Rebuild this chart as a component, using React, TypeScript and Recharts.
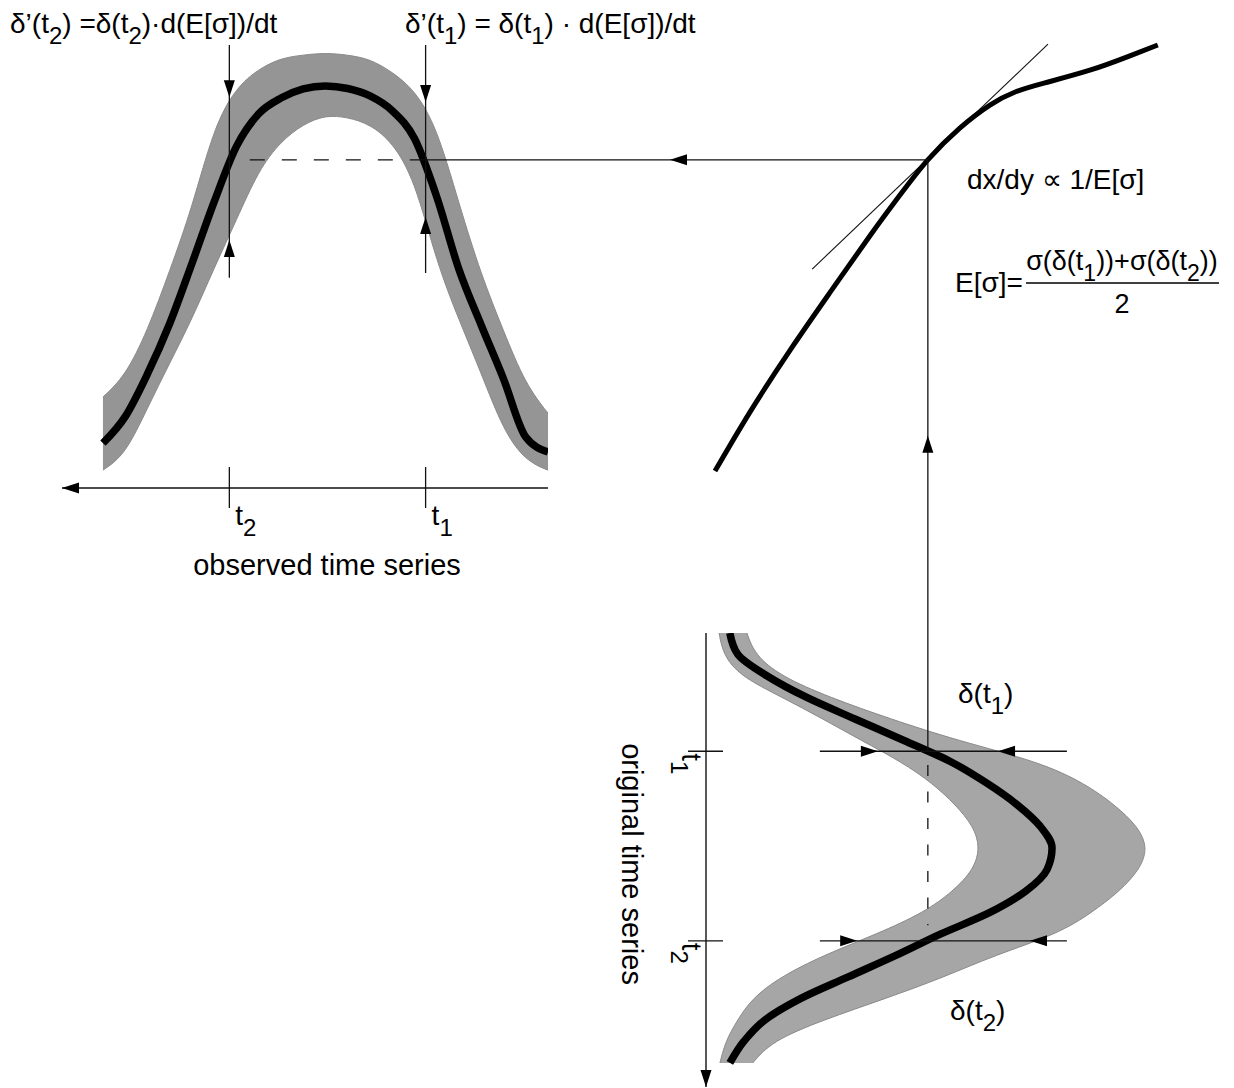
import React from 'react';
import { ComposedChart, Line, Area, XAxis, YAxis, ReferenceLine, ReferenceDot } from 'recharts';

// ---------------- data ----------------
const timeSteps = [0, 5, 10, 15, 20, 25, 30, 35, 40, 45, 50, 55, 60, 65, 70, 75, 80, 85, 90, 95, 100];

// observed (transformed) ensemble: mean and envelope
const observedMean = [8.3, 11.7, 25.1, 37.4, 50.2, 66.9, 80.3, 86.7, 90.1, 91.8, 92.4, 91.7, 89.6, 86.0, 78.5, 65.8, 51.6, 37.8, 26.2, 16.4, 10.3];
const observedUpper = [17.2, 23.7, 36.1, 48.9, 65.3, 83.0, 91.5, 95.6, 98.6, 99.5, 100, 99.5, 98.8, 96.3, 92.1, 83.2, 64.3, 49.9, 36.1, 25.7, 20.9];
const observedLower = [4.1, 6.2, 13.1, 26.4, 38.6, 51.7, 71.0, 79.5, 83.6, 85.2, 85.7, 83.6, 79.7, 73.1, 61.6, 50.6, 38.8, 28.7, 18.4, 7.6, 4.1];

// original ensemble: mean and envelope
const originalMean = [5.3, 7.1, 13.6, 22.4, 33.1, 44.0, 54.5, 62.5, 69.2, 74.3, 76.9, 75.8, 71.1, 63.1, 52.2, 42.2, 31.6, 21.1, 13.1, 8.4, 5.3];
const originalInner = [2.9, 3.8, 7.5, 17.0, 26.0, 34.5, 43.5, 50.4, 55.5, 59.5, 60.9, 59.5, 55.0, 48.5, 38.0, 26.0, 16.5, 10.2, 7.0, 4.3, 3.1];
const originalOuter = [9.1, 10.8, 16.5, 27.5, 41.0, 55.8, 74.2, 84.2, 90.9, 96.0, 98.2, 96.4, 92.0, 85.8, 78.2, 64.0, 53.0, 40.0, 26.0, 14.5, 10.4];

// transfer function (original value -> observed value)
const transferInput = [2.0, 9.8, 18.7, 27.6, 36.4, 43.1, 49.3, 56.4, 63.1, 68.7, 75.3, 85.3, 94.2, 100.4];
const transferOutput = [3.9, 17.5, 31.7, 45.0, 57.9, 67.3, 75.4, 82.7, 88.0, 91.0, 93.1, 96.0, 99.3, 101.8];
const tangentInput = [23.6, 76.0];
const tangentOutput = [50.3, 102.0];

// marked times and spreads
const tickTimes = [27.5, 71.6];
const tickSubscripts = ['1', '2'];
const observedSpreadLow = [62.3, 57.0];
const observedSpreadHigh = [88.7, 89.8];
const observedMarkerTop = 101.8;
const observedMarkerBottom = [49.4, 48.3];
const originalSpreadLow = [38.2, 33.6];
const originalSpreadHigh = [64.9, 72.0];
const originalMarkerFrom = 25.3;
const originalMarkerTo = 80.2;
const crossingInput = 49.3;
const crossingOutput = 75.4;
const dashStartTime = 67;
const dropDashFrom = 30.7;
const dropDashTo = 68;
const feedArrowInput = -8;
const riseArrowOutput = 12;

// ---------------- layout ----------------
const WIDTH = 1234;
const HEIGHT = 1088;
const FONT = '"Liberation Sans", Arial, Helvetica, sans-serif';
const INK = '#111';
const PA = { left: 62, right: 548, top: 18, bottom: 488 };
const PB = { left: 706, right: 1183, top: 18, bottom: 488 };
const PC = { left: 706, right: 1183, top: 633, bottom: 1087 };
const T_MAX_A = 109.2;
const V_MAX = 106;
const W_MAX = 108;
const T_MAX_C = 105.6;
const AXIS_A_H = 40;
const AXIS_C_W = 60;
const SUB_DY = 11;

const xOfTimeA = (t: number) => PA.right - (t / T_MAX_A) * (PA.right - PA.left);
const vOfX = (x: number) => ((x - PB.left) / (PB.right - PB.left)) * V_MAX;
const yOfTimeC = (t: number) => PC.top + (t / T_MAX_C) * (PC.bottom - PC.top);
const wOfY = (y: number) => ((PB.bottom - y) / (PB.bottom - PB.top)) * W_MAX;

const observedRows = timeSteps.map((t, i) => ({ t, mean: observedMean[i], band: [observedLower[i], observedUpper[i]] }));
const originalRows = timeSteps.map((t, i) => ({ t, mean: originalMean[i], band: [originalInner[i], originalOuter[i]] }));
const transferRows = transferInput.map((v, i) => ({ v, w: transferOutput[i] }));

const arrow = (dir: 'up' | 'down' | 'left' | 'right') => (p: any) => {
  const { cx, cy } = p;
  const L = 17;
  const h = 5.5;
  let pts: number[][];
  if (dir === 'down') pts = [[cx, cy], [cx - h, cy - L], [cx + h, cy - L]];
  else if (dir === 'up') pts = [[cx, cy], [cx - h, cy + L], [cx + h, cy + L]];
  else if (dir === 'left') pts = [[cx, cy], [cx + L, cy - h], [cx + L, cy + h]];
  else pts = [[cx, cy], [cx - L, cy - h], [cx - L, cy + h]];
  return <polygon points={pts.map((q) => q.join(',')).join(' ')} fill="#000" />;
};

// text with subscripts: parts alternate normal / subscript
const richText = (parts: string[], subSize: number) => {
  const out: React.ReactNode[] = [];
  parts.forEach((p, i) => {
    const isSub = i % 2 === 1;
    const dy = i === 0 ? 0 : isSub ? SUB_DY : -SUB_DY;
    out.push(
      <tspan key={i} dy={dy} fontSize={isSub ? subSize : undefined}>
        {p}
      </tspan>
    );
  });
  return out;
};

const ObservedTick = (props: any) => {
  const { x, payload } = props;
  const i = tickTimes.indexOf(payload.value);
  const y0 = PA.bottom;
  return (
    <g>
      <line x1={x} x2={x} y1={y0 - 21} y2={y0 + 20} stroke={INK} strokeWidth={1.3} />
      <text x={x + 6} y={y0 + 37} fontSize={28} fontFamily={FONT} fill="#000">
        {richText(['t', tickSubscripts[i]], 24)}
      </text>
    </g>
  );
};

const OriginalTick = (props: any) => {
  const { y, payload } = props;
  const i = tickTimes.indexOf(payload.value);
  const x0 = PC.left;
  return (
    <g>
      <line x1={x0 - 18} x2={x0 + 17} y1={y} y2={y} stroke={INK} strokeWidth={1.3} />
      <text transform={`translate(${x0 - 24}, ${y + 2}) rotate(90)`} fontSize={28} fontFamily={FONT} fill="#000">
        {richText(['t', tickSubscripts[i]], 24)}
      </text>
    </g>
  );
};

const layer: React.CSSProperties = { position: 'absolute', left: 0, top: 0 };

export default function App() {
  return (
    <div style={{ position: 'absolute', left: 0, top: 0, width: WIDTH, height: HEIGHT, background: '#fff' }}>
      {/* observed time series */}
      <div style={layer}>
        <ComposedChart
          width={WIDTH}
          height={HEIGHT}
          data={observedRows}
          margin={{ top: PA.top, left: PA.left, right: WIDTH - PA.right, bottom: HEIGHT - PA.bottom - AXIS_A_H }}
        >
          <XAxis
            type="number"
            dataKey="t"
            domain={[0, T_MAX_A]}
            reversed
            ticks={tickTimes}
            interval={0}
            height={AXIS_A_H}
            axisLine={{ stroke: INK, strokeWidth: 1.4 }}
            tickLine={false}
            tick={ObservedTick}
            allowDataOverflow
          />
          <YAxis type="number" domain={[0, W_MAX]} hide allowDataOverflow />
          <Area type="basis" dataKey="band" fill="#959595" fillOpacity={1} stroke="#8a8a8a" strokeWidth={1} isAnimationActive={false} />
          <Line type="monotone" dataKey="mean" stroke="#000" strokeWidth={7.5} dot={false} isAnimationActive={false} />
          {tickTimes.map((t, i) => (
            <ReferenceLine
              key={'m' + i}
              segment={[{ x: t, y: observedMarkerTop }, { x: t, y: observedMarkerBottom[i] }]}
              stroke={INK}
              strokeWidth={1.3}
              ifOverflow="visible"
            />
          ))}
          {tickTimes.map((t, i) => (
            <ReferenceDot key={'hd' + i} x={t} y={observedSpreadHigh[i]} r={3} ifOverflow="visible" shape={arrow('down')} />
          ))}
          {tickTimes.map((t, i) => (
            <ReferenceDot key={'lu' + i} x={t} y={observedSpreadLow[i]} r={3} ifOverflow="visible" shape={arrow('up')} />
          ))}
          <ReferenceLine
            segment={[{ x: dashStartTime, y: crossingOutput }, { x: tickTimes[0], y: crossingOutput }]}
            stroke={INK}
            strokeWidth={1.3}
            strokeDasharray="15 17"
            ifOverflow="visible"
          />
          <ReferenceDot x={T_MAX_A} y={0} r={3} ifOverflow="visible" shape={arrow('left')} />
        </ComposedChart>
      </div>

      {/* original time series (rotated) */}
      <div style={layer}>
        <ComposedChart
          layout="vertical"
          width={WIDTH}
          height={HEIGHT}
          data={originalRows}
          margin={{ top: PC.top, left: PC.left - AXIS_C_W, right: WIDTH - PC.right, bottom: HEIGHT - PC.bottom }}
        >
          <XAxis type="number" domain={[0, V_MAX]} hide allowDataOverflow />
          <YAxis
            type="number"
            dataKey="t"
            domain={[0, T_MAX_C]}
            ticks={tickTimes}
            interval={0}
            width={AXIS_C_W}
            axisLine={{ stroke: INK, strokeWidth: 1.4 }}
            tickLine={false}
            tick={OriginalTick}
            allowDataOverflow
          />
          <Area type="basis" dataKey="band" fill="#a6a6a6" fillOpacity={1} stroke="#8a8a8a" strokeWidth={1} isAnimationActive={false} />
          <Line type="monotone" dataKey="mean" stroke="#000" strokeWidth={7.5} dot={false} isAnimationActive={false} />
          {tickTimes.map((t, i) => (
            <ReferenceLine
              key={'h' + i}
              segment={[{ x: originalMarkerFrom, y: t }, { x: originalMarkerTo, y: t }]}
              stroke={INK}
              strokeWidth={1.3}
              ifOverflow="visible"
            />
          ))}
          {tickTimes.map((t, i) => (
            <ReferenceDot key={'r' + i} x={originalSpreadLow[i]} y={t} r={3} ifOverflow="visible" shape={arrow('right')} />
          ))}
          {tickTimes.map((t, i) => (
            <ReferenceDot key={'l' + i} x={originalSpreadHigh[i]} y={t} r={3} ifOverflow="visible" shape={arrow('left')} />
          ))}
          <ReferenceLine
            segment={[{ x: crossingInput, y: dropDashFrom }, { x: crossingInput, y: dropDashTo }]}
            stroke={INK}
            strokeWidth={1.3}
            strokeDasharray="11 15.5"
            ifOverflow="visible"
          />
          <ReferenceDot x={0} y={T_MAX_C} r={3} ifOverflow="visible" shape={arrow('down')} />
        </ComposedChart>
      </div>

      {/* transfer function */}
      <div style={layer}>
        <ComposedChart
          width={WIDTH}
          height={HEIGHT}
          data={transferRows}
          margin={{ top: PB.top, left: PB.left, right: WIDTH - PB.right, bottom: HEIGHT - PB.bottom }}
        >
          <XAxis type="number" dataKey="v" domain={[0, V_MAX]} hide allowDataOverflow />
          <YAxis type="number" domain={[0, W_MAX]} hide allowDataOverflow />
          <ReferenceLine
            segment={[{ x: tangentInput[0], y: tangentOutput[0] }, { x: tangentInput[1], y: tangentOutput[1] }]}
            stroke={INK}
            strokeWidth={1.1}
            ifOverflow="visible"
          />
          <Line type="natural" dataKey="w" stroke="#000" strokeWidth={5} dot={false} isAnimationActive={false} />
          <ReferenceLine
            segment={[{ x: crossingInput, y: crossingOutput }, { x: vOfX(xOfTimeA(tickTimes[0])), y: crossingOutput }]}
            stroke={INK}
            strokeWidth={1.3}
            ifOverflow="visible"
          />
          <ReferenceLine
            segment={[{ x: crossingInput, y: crossingOutput }, { x: crossingInput, y: wOfY(yOfTimeC(tickTimes[0])) }]}
            stroke={INK}
            strokeWidth={1.3}
            ifOverflow="visible"
          />
          <ReferenceDot x={feedArrowInput} y={crossingOutput} r={3} ifOverflow="visible" shape={arrow('left')} />
          <ReferenceDot x={crossingInput} y={riseArrowOutput} r={3} ifOverflow="visible" shape={arrow('up')} />
        </ComposedChart>
      </div>

      {/* text */}
      <svg width={WIDTH} height={HEIGHT} style={{ ...layer, pointerEvents: 'none' }} fontFamily={FONT} fill="#000">
        <text x={10} y={33} fontSize={28}>
          {richText(['δ’(t', '2', ') =δ(t', '2', ')·d(E[σ])/dt'], 24)}
        </text>
        <text x={405} y={33} fontSize={28}>
          {richText(['δ’(t', '1', ') = δ(t', '1', ') · d(E[σ])/dt'], 24)}
        </text>
        <text x={967} y={189} fontSize={28}>dx/dy ∝ 1/E[σ]</text>
        <text x={955} y={292} fontSize={28}>E[σ]=</text>
        <text x={1122} y={270} fontSize={27} textAnchor="middle">
          {richText(['σ(δ(t', '1', '))+σ(δ(t', '2', '))'], 23)}
        </text>
        <line x1={1026} x2={1219} y1={283} y2={283} stroke="#000" strokeWidth={1.5} />
        <text x={1122} y={313} fontSize={27} textAnchor="middle">2</text>
        <text x={958} y={703} fontSize={28}>
          {richText(['δ(t', '1', ')'], 24)}
        </text>
        <text x={950} y={1020} fontSize={28}>
          {richText(['δ(t', '2', ')'], 24)}
        </text>
        <text x={327} y={575} fontSize={29} textAnchor="middle">observed time series</text>
        <text transform="translate(622, 864) rotate(90)" fontSize={29} textAnchor="middle">original time series</text>
      </svg>
    </div>
  );
}
